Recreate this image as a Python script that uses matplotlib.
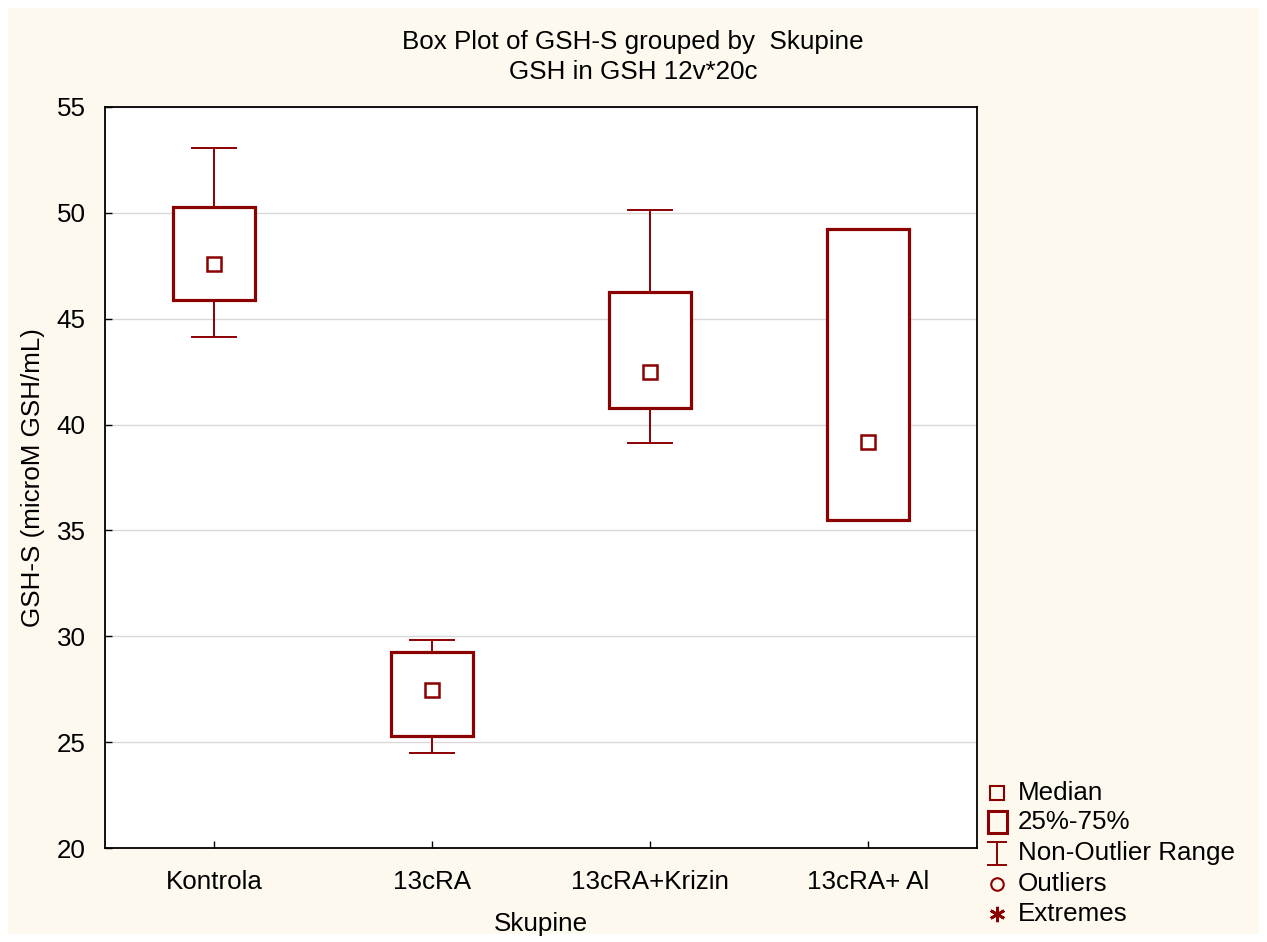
import matplotlib
matplotlib.use("Agg")
import matplotlib.pyplot as plt
from matplotlib.patches import Rectangle
from matplotlib.lines import Line2D

plt.rcParams['font.family'] = ['Liberation Sans', 'DejaVu Sans']

categories = ["Kontrola", "13cRA", "13cRA+Krizin", "13cRA+ Al"]
medians = [47.58, 27.46, 42.48, 39.18]
q1 = [45.88, 25.29, 40.78, 35.49]
q3 = [50.28, 29.26, 46.26, 49.24]
whislo = [44.14, 24.49, 39.13, 35.49]
whishi = [53.06, 29.82, 50.13, 49.24]
yticks = [20, 25, 30, 35, 40, 45, 50, 55]
legend_labels = ["Median", "25%-75%", "Non-Outlier Range", "Outliers", "Extremes"]

RED = "#8B0000"
CREAM = "#FDF9EF"
FS = 18.7

W, H = 1267, 942
fig = plt.figure(figsize=(W / 100, H / 100), dpi=100, facecolor="white")


def fx(x):
    return x / W


def fy(y):
    return 1 - y / H


fig.patches.append(Rectangle((fx(8), fy(934)), (1259 - 8) / W, (934 - 8) / H,
                             transform=fig.transFigure, facecolor=CREAM,
                             edgecolor="none", zorder=-10))

ax = fig.add_axes([fx(105), fy(848), (977 - 105) / W, (848 - 107) / H])
ax.set_zorder(2)
ax.set_facecolor("white")

stats = []
for i, c in enumerate(categories):
    stats.append(dict(label=c, med=medians[i], q1=q1[i], q3=q3[i],
                      whislo=whislo[i], whishi=whishi[i], fliers=[]))

positions = list(range(1, len(categories) + 1))
ax.bxp(stats, positions=positions, widths=0.38, patch_artist=True,
       showfliers=False,
       boxprops=dict(facecolor="white", edgecolor=RED, linewidth=2.3),
       whiskerprops=dict(color=RED, linewidth=1.4),
       capprops=dict(color=RED, linewidth=1.4),
       medianprops=dict(visible=False),
       capwidths=0.2, zorder=3)
ax.plot(positions, medians, linestyle="none", marker="s", markersize=9.5,
        markerfacecolor="white", markeredgecolor=RED, markeredgewidth=1.8,
        zorder=4)

ax.set_xlim(0.5, len(categories) + 0.5)
ax.set_ylim(20, 55)
ax.set_yticks(yticks)
ax.set_xticks(positions)
ax.set_xticklabels(categories)
ax.tick_params(axis="both", direction="in", length=5, width=1,
               labelsize=FS, colors="black")
ax.tick_params(axis="y", pad=14)
ax.tick_params(axis="x", pad=16)
ax.yaxis.grid(True, color="#D9D9D9", linewidth=1, zorder=0)
ax.set_axisbelow(True)
for s in ax.spines.values():
    s.set_linewidth(1.3)
    s.set_color("black")

ax.set_xlabel("Skupine", fontsize=FS, labelpad=13)
ax.set_ylabel("GSH-S (microM GSH/mL)", fontsize=FS, labelpad=8)

fig.text(fx(633), fy(42), "Box Plot of GSH-S grouped by  Skupine",
         ha="center", va="center", fontsize=FS)
fig.text(fx(633), fy(72), "GSH in GSH 12v*20c",
         ha="center", va="center", fontsize=FS)

# legend (drawn manually)
rows = [793, 822, 853, 884, 914]
mx = 997
tf = fig.transFigure
fig.add_artist(Line2D([fx(mx)], [fy(rows[0])], transform=tf, linestyle="none",
                      marker="s", markersize=9.5, markerfacecolor="none",
                      markeredgecolor=RED, markeredgewidth=1.5))
fig.add_artist(Rectangle((fx(988), fy(rows[1] + 11)), 19 / W, 22 / H,
                         transform=tf, facecolor="none", edgecolor=RED,
                         linewidth=2.2))
yt, yb = rows[2] - 11, rows[2] + 12
fig.add_artist(Line2D([fx(mx), fx(mx)], [fy(yt), fy(yb)], transform=tf,
                      color=RED, linewidth=1.4))
for yy in (yt, yb):
    fig.add_artist(Line2D([fx(988), fx(1006)], [fy(yy), fy(yy)], transform=tf,
                          color=RED, linewidth=1.4))
fig.add_artist(Line2D([fx(mx)], [fy(rows[3])], transform=tf, linestyle="none",
                      marker="o", markersize=9, markerfacecolor="none",
                      markeredgecolor=RED, markeredgewidth=1.5))
fig.add_artist(Line2D([fx(mx)], [fy(rows[4])], transform=tf, linestyle="none",
                      marker=(6, 2, 0), markersize=11, markerfacecolor=RED,
                      markeredgecolor=RED, markeredgewidth=2))
for yy, lab in zip(rows, legend_labels):
    fig.text(fx(1018), fy(yy), lab, ha="left", va="center", fontsize=FS)

fig.savefig("out.png", dpi=100, facecolor="white")
